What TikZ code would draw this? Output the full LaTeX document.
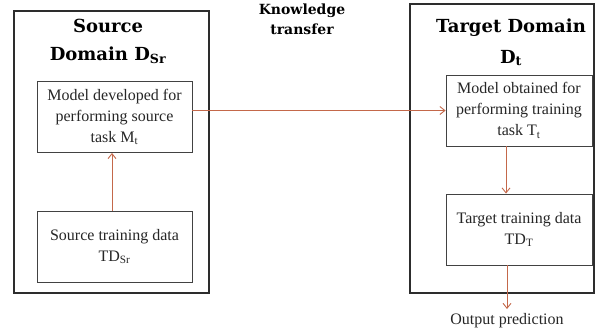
\documentclass[tikz,border=0pt]{standalone}
\usepackage{fontspec}
\setmainfont{Liberation Serif}
\newfontfamily\headfont{DejaVu Serif}
\usetikzlibrary{arrows.meta}
\definecolor{flow}{RGB}{196,104,74}
\definecolor{frame}{RGB}{45,45,45}
\begin{document}
\begin{tikzpicture}[x=1pt,y=-1pt,
  outerbox/.style={draw=frame,line width=1.1pt,minimum width=#1,inner sep=0pt},
  innerbox/.style={draw=frame!90,line width=0.9pt,minimum width=155pt,minimum height=71pt,
    align=center,inner sep=0pt,font=\fontsize{16}{21}\selectfont,text=black!85},
  title/.style={font=\headfont\bfseries\fontsize{18}{28}\selectfont,align=center,inner sep=0pt},
  flowarrow/.style={draw=flow,line width=0.9pt,-{Straight Barb[length=5pt,width=8pt]}}]
\useasboundingbox (0,0) rectangle (596,335);
\fill[white] (0,0) rectangle (596,335);

% domain frames
\node[outerbox=195pt,minimum height=282pt] (src) at (111.5,152) {};
\node[outerbox=184pt,minimum height=289pt] (tgt) at (502,148.5) {};

% frame titles
\node[title,anchor=base] (srct) at (108,32) {Source};
\node[title,anchor=base] (srcd) at (108,60) {Domain D\textsubscript{Sr}};
\node[title,anchor=base] (tgtt) at (511,32) {Target Domain};
\node[title,anchor=base] (tgtd) at (511,63) {D\textsubscript{t}};

\node[font=\headfont\bfseries\fontsize{14}{20}\selectfont,align=center,anchor=base,inner sep=0pt]
  (kt) at (302,34) {Knowledge\\transfer};

% processing stages
\node[innerbox] (m1) at (114.5,117) {Model developed for\\performing source\\task M\textsubscript{t}};
\node[innerbox] (d1) at (114.5,246.5) {Source training data\\TD\textsubscript{Sr}};
\node[innerbox,minimum width=146pt] (m2) at (519,110.5) {Model obtained for\\performing training\\task T\textsubscript{t}};
\node[innerbox,minimum width=146pt] (d2) at (519,229.5) {Target training data\\TD\textsubscript{T}};

\node[font=\fontsize{16}{20}\selectfont,anchor=base,inner sep=0pt,text=black!85] (out) at (507,324) {Output prediction};
\coordinate (outtip) at (507,309);

% connectors
\draw[flowarrow] ([xshift=-2.5pt]d1.north) -- ([xshift=-2.5pt]m1.south);
\draw[flowarrow] (m1.east |- m2.west) -- (m2.west);
\draw[flowarrow] ([xshift=-13pt]m2.south) -- ([xshift=-13pt]d2.north);
\draw[flowarrow] ([xshift=-12pt]d2.south) -- (outtip);
\end{tikzpicture}
\end{document}
